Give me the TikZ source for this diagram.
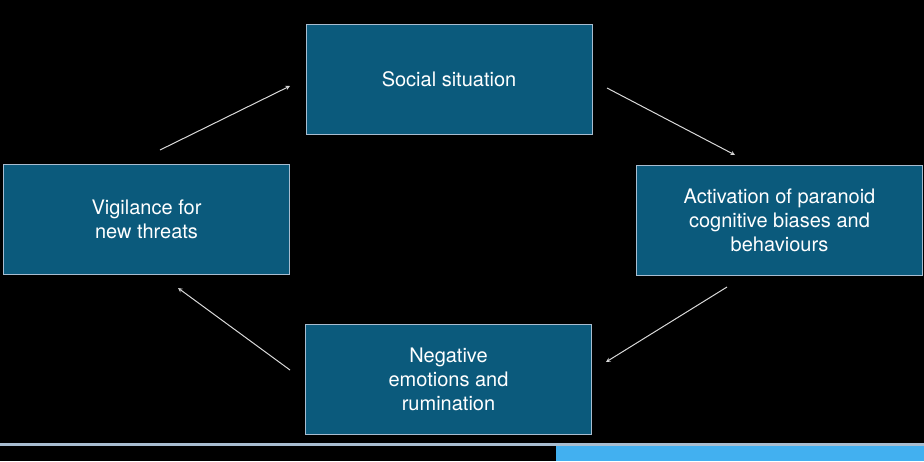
\documentclass[tikz,border=0pt]{standalone}
\usepackage{fontspec}
\setmainfont{TeX Gyre Heros}
\usetikzlibrary{positioning}
\definecolor{boxblue}{HTML}{0B5A7C}
\definecolor{rimgrey}{HTML}{A8BDD0}
\definecolor{barblue}{HTML}{42B0F0}
\begin{document}
\begin{tikzpicture}[x=1pt,y=-1pt,
stage/.style={rectangle, draw=rimgrey, line width=0.8pt, fill=boxblue, text=white,
  minimum width=286pt, minimum height=110pt, align=center, font=\fontsize{20}{24}\selectfont},
flow/.style={-stealth, draw=white!85!black, line width=1pt}]
%background
\fill[black] (0,0) rectangle (924,461);
\useasboundingbox (0,0) rectangle (924,461);
\fill[rimgrey] (0,443) rectangle (924,446);
\fill[barblue] (556,446) rectangle (924,461);
%stages
\node[stage] (social) at (449,79.5) {Social situation};
\node[stage] (paranoid) at (779.5,220) {Activation of paranoid\\cognitive biases and\\behaviours};
\node[stage] (negative) at (448.5,379.5) {Negative\\emotions and\\rumination};
\node[stage] (vigil) at (146.5,219.5) {Vigilance for\\new threats};
%arrow ends
\coordinate (a1) at (160,150); \coordinate (b1) at (290,86);
\coordinate (a2) at (607,88);  \coordinate (b2) at (735,155);
\coordinate (a3) at (727,287); \coordinate (b3) at (606,362);
\coordinate (a4) at (290,370); \coordinate (b4) at (178,288);
\draw[flow] (a1) -- (b1);
\draw[flow] (a2) -- (b2);
\draw[flow] (a3) -- (b3);
\draw[flow] (a4) -- (b4);
\end{tikzpicture}
\end{document}
